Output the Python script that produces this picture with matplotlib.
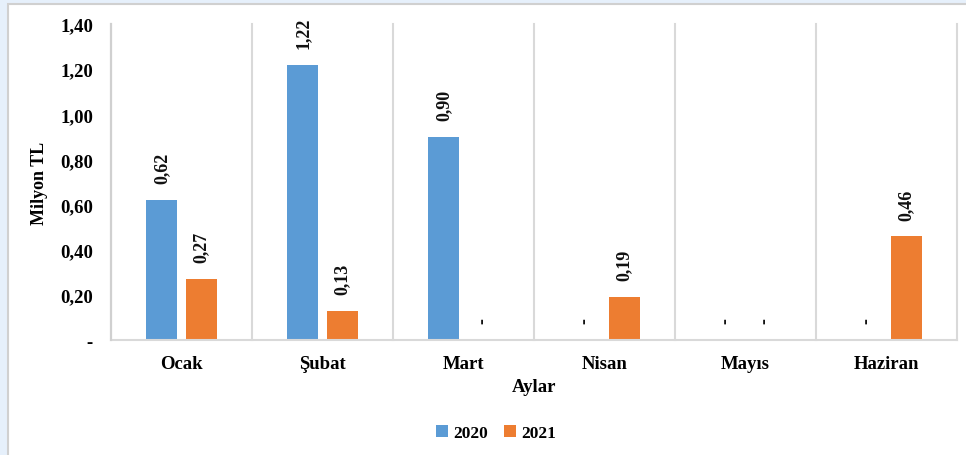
import numpy as np
import matplotlib
matplotlib.use('Agg')
import matplotlib.pyplot as plt
from matplotlib.patches import Rectangle
from matplotlib.lines import Line2D

plt.rcParams['font.family'] = ['Liberation Serif', 'DejaVu Serif']
plt.rcParams['font.weight'] = 'bold'

aylar = ['Ocak', 'Şubat', 'Mart', 'Nisan', 'Mayıs', 'Haziran']
y2020 = [0.62, 1.22, 0.90, 0, 0, 0]
y2021 = [0.27, 0.13, 0, 0.19, 0, 0.46]
yticks = [0, 0.2, 0.4, 0.6, 0.8, 1.0, 1.2, 1.4]

def fmt(v):
    if v == 0:
        return '-'
    return ('%.2f' % v).replace('.', ',')

fig = plt.figure(figsize=(9.66, 4.56), dpi=100)
fig.patch.set_facecolor('#E6F0FB')
# white chart area with thin gray border (screenshot frame)
fig.patches.append(Rectangle((8/966, -0.01), 1.02, (456-5)/456 + 0.01, transform=fig.transFigure,
                             facecolor='white', edgecolor='#D0D0D0', linewidth=1.5, zorder=-10))

ax = fig.add_axes([111/966, 1-341/456, (957-111)/966, (341-25)/456])
ax.set_zorder(1)
ax.set_facecolor('none')

x = np.arange(len(aylar))
w = 0.222
off = 0.14
b1 = ax.bar(x - off, y2020, w, color='#5B9BD5', label='2020', zorder=2)
b2 = ax.bar(x + off, y2021, w, color='#ED7D31', label='2021', zorder=2)

for bars, vals in [(b1, y2020), (b2, y2021)]:
    for r, v in zip(bars, vals):
        ax.annotate(fmt(v), (r.get_x() + r.get_width()/2, v), xytext=(0, 12),
                    textcoords='offset points', rotation=90, ha='center', va='bottom',
                    fontsize=13, fontweight='bold', color='#111111')

ax.set_xlim(-0.5, len(aylar) - 0.5)
ax.set_ylim(0, 1.4)
ax.set_yticks(yticks)
ax.set_yticklabels([fmt(t) for t in yticks], fontsize=13.5, fontweight='bold')
ax.set_xticks(x)
ax.set_xticklabels(aylar, fontsize=13.5, fontweight='bold')
ax.tick_params(axis='both', length=0)
ax.tick_params(axis='y', pad=13)
ax.tick_params(axis='x', pad=11)

# vertical separators between months
for xv in np.arange(0.5, len(aylar), 1.0):
    ax.axvline(xv, color='#D9D9D9', linewidth=1.5, zorder=1, clip_on=False)
for s in ['top', 'right', 'left']:
    ax.spines[s].set_visible(False)
ax.spines['bottom'].set_color('#D9D9D9')
ax.spines['bottom'].set_linewidth(1.5)

# left border line of the plot area
fig.lines.append(Line2D([111/966, 111/966], [1-341/456, 1-25/456], transform=fig.transFigure,
                        color='#D0D0D0', linewidth=1.6, zorder=5))

ax.set_xlabel('Aylar', fontsize=13.5, fontweight='bold', labelpad=4)
ax.set_ylabel('Milyon TL', fontsize=13, fontweight='bold', labelpad=9)

fig.legend(handles=[b1, b2], loc='center', bbox_to_anchor=(496/966, 1-434/456), ncol=2,
           frameon=False, fontsize=12.5, handlelength=0.7, handleheight=0.7,
           handletextpad=0.3, columnspacing=0.9)

fig.savefig('out.png', dpi=100)
